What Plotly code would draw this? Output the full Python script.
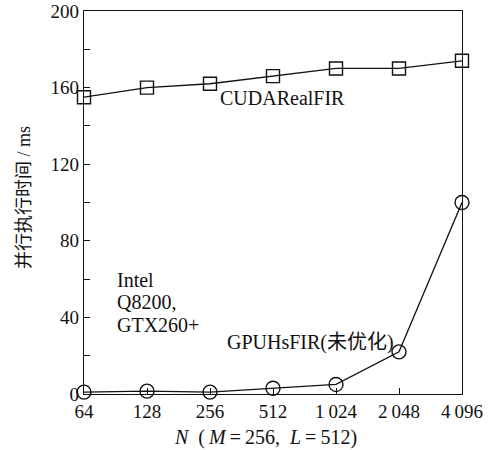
import plotly.graph_objects as go

# Signal length N (categorical axis), thin spaces as digit-group separators
n_labels = ["64", "128", "256", "512", "1\u2009024", "2\u2009048", "4\u2009096"]

# Parallel execution time (ms)
cuda_real_fir = [155, 160, 162, 166, 170, 170, 174]
gpu_hs_fir = [1, 1.5, 1, 3, 5, 22, 100]

y_ticks = [0, 20, 40, 60, 80, 100, 120, 140, 160, 180, 200]
y_ticktext = [str(v) if v % 40 == 0 else "" for v in y_ticks]

SERIF = "Liberation Serif, Times New Roman, Noto Sans CJK SC, serif"
BLACK = "#111111"

xs = list(range(len(n_labels)))

fig = go.Figure()
fig.add_trace(go.Scatter(
    x=xs, y=cuda_real_fir, mode="lines+markers", cliponaxis=False,
    line=dict(color=BLACK, width=1.3),
    marker=dict(symbol="square-open", size=13, color=BLACK, line=dict(width=1.4)),
    showlegend=False,
))
fig.add_trace(go.Scatter(
    x=xs, y=gpu_hs_fir, mode="lines+markers", cliponaxis=False,
    line=dict(color=BLACK, width=1.3),
    marker=dict(symbol="circle-open", size=14, color=BLACK, line=dict(width=1.4)),
    showlegend=False,
))

ann_font = dict(family=SERIF, size=20, color=BLACK)
annotations = [
    dict(text="CUDARealFIR", x=0.354, y=0.772, xanchor="left", yanchor="middle"),
    dict(text="Intel", x=0.082, y=0.298, xanchor="left", yanchor="middle"),
    dict(text="Q8200,", x=0.082, y=0.240, xanchor="left", yanchor="middle"),
    dict(text="GTX260+", x=0.082, y=0.180, xanchor="left", yanchor="middle"),
    dict(text="GPUHsFIR(未优化)", x=0.373, y=0.135, xanchor="left", yanchor="middle"),
    dict(text="<i>N</i>\u2002(\u2009<i>M</i>\u2009=\u2009256,\u2002<i>L</i>\u2009=\u2009512)",
         x=0.48, y=-0.114, xanchor="center", yanchor="middle"),
    dict(text="并行执行时间 / ms", x=-0.159, y=0.514, xanchor="center", yanchor="middle",
         textangle=-90, font=dict(family=SERIF, size=18, color=BLACK)),
]
for a in annotations:
    a.setdefault("font", ann_font)
    a.update(xref="paper", yref="paper", showarrow=False)

axis_common = dict(
    ticks="inside", ticklen=6, tickwidth=1, tickcolor=BLACK,
    showline=True, linecolor=BLACK, linewidth=1.3, mirror=True,
    showgrid=False, zeroline=False, automargin=False,
    tickfont=dict(family=SERIF, size=19, color=BLACK),
)

fig.update_layout(
    width=492, height=450,
    margin=dict(l=84, r=30, t=11, b=56),
    paper_bgcolor="white", plot_bgcolor="white",
    font=dict(family=SERIF, size=19, color=BLACK),
    annotations=annotations,
    xaxis=dict(range=[0, 6], tickmode="array", tickvals=xs, ticktext=n_labels,
               **axis_common),
    yaxis=dict(range=[0, 200], tickmode="array", tickvals=y_ticks, ticktext=y_ticktext,
               **axis_common),
)

fig.write_html("out.html")
